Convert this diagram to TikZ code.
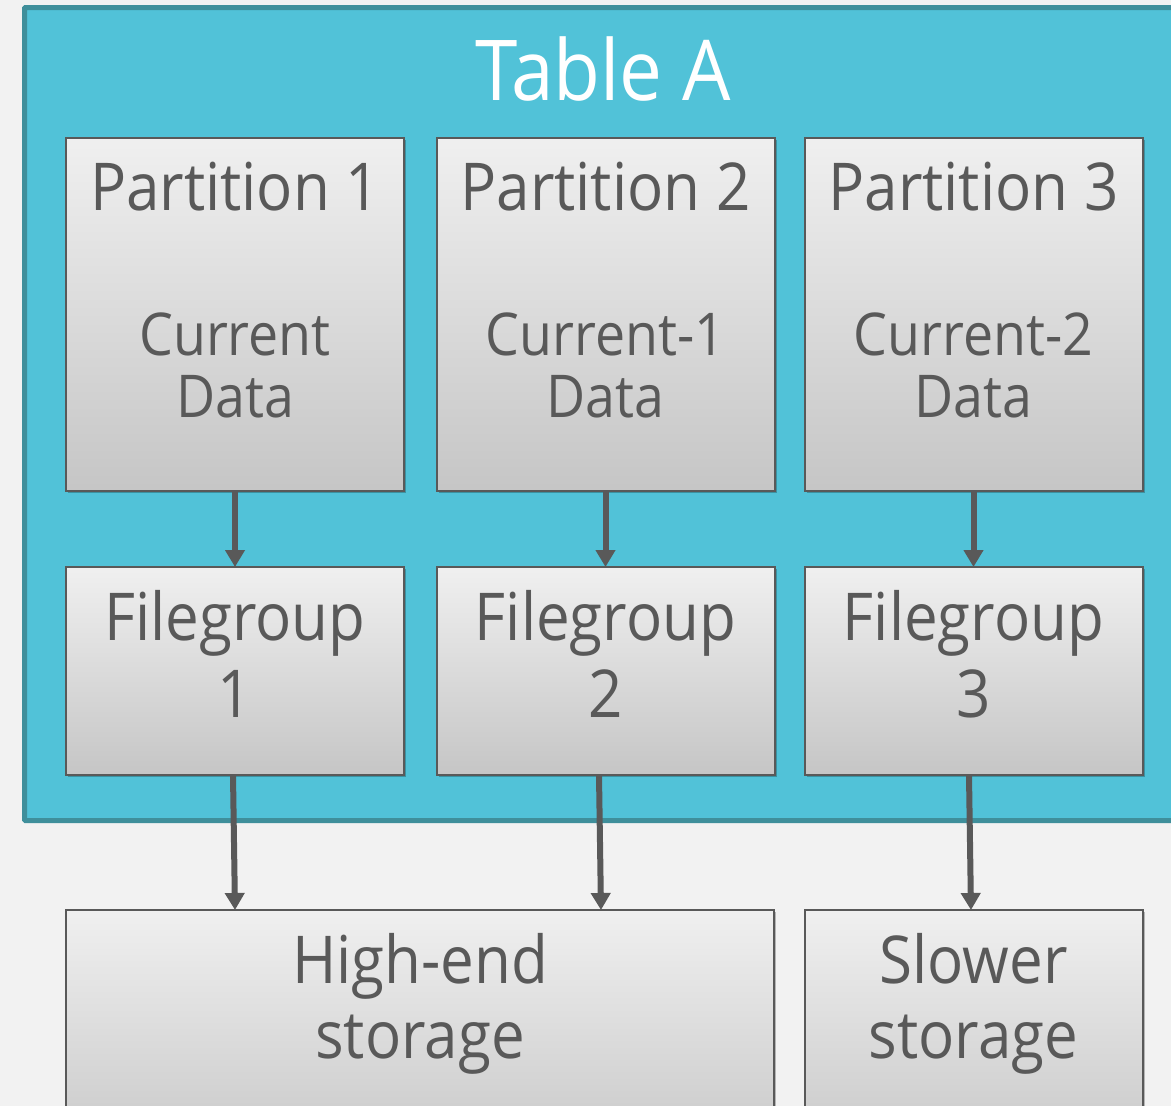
\documentclass[tikz,border=0pt]{standalone}
\usepackage{fontspec}
\setmainfont{Open Sans}[FakeStretch=0.91]
\usepackage{xcolor}
\usepackage{tikz}
\usetikzlibrary{arrows.meta,shadows}
\definecolor{ink}{HTML}{595959}
\definecolor{teal}{HTML}{51C2D8}
\definecolor{tealdark}{HTML}{3F8F9B}
\definecolor{paper}{HTML}{F2F2F2}
\tikzstyle{box}=[draw=ink,line width=2pt,top color=gray!12!white,bottom color=gray!45!white,
  drop shadow={shadow xshift=2pt,shadow yshift=-2pt,opacity=.25,fill=black},
  minimum width=338pt,inner sep=0pt,outer sep=0pt]
\tikzstyle{txt}=[text=ink,font=\fontsize{66}{77}\selectfont,align=center,inner sep=0pt,anchor=base]
\tikzstyle{small}=[text=ink,font=\fontsize{59}{62}\selectfont,align=center,inner sep=0pt,anchor=base]
\tikzstyle{arr}=[draw=ink,line width=6pt,-{Triangle[length=17pt,width=19pt]}]

\begin{document}
\begin{tikzpicture}[x=1pt,y=-1pt]
        \useasboundingbox (0,0) rectangle (1171,1106);
        \fill[paper] (0,0) rectangle (1171,1106);
        \draw[tealdark,fill=teal,line width=5pt,rounded corners=1pt] (24.5,7.5) rectangle (1190,820.5);
        \node at (603,100) [txt,text=white,font=\fontsize{84}{90}\selectfont] (title) {Table A};

        % partitions
        \node at (235,314.5) [box,minimum height=353pt] (p1) {};
        \node at (605.5,314.5) [box,minimum height=353pt] (p2) {};
        \node at (973.5,314.5) [box,minimum height=353pt] (p3) {};
        \node at (235,210) [txt] (p1t) {Partition 1};
        \node at (605.5,210) [txt] (p2t) {Partition 2};
        \node at (973.5,210) [txt] (p3t) {Partition 3};
        \node at (235,417) [small] (p1d) {Current\\Data};
        \node at (605.5,417) [small] (p2d) {Current-1\\Data};
        \node at (973.5,417) [small] (p3d) {Current-2\\Data};

        % filegroups
        \node at (235,671) [box,minimum height=208pt] (f1) {};
        \node at (605.5,671) [box,minimum height=208pt] (f2) {};
        \node at (973.5,671) [box,minimum height=208pt] (f3) {};
        \node at (235,717) [txt] (f1t) {Filegroup\\1};
        \node at (605.5,717) [txt] (f2t) {Filegroup\\2};
        \node at (973.5,717) [txt] (f3t) {Filegroup\\3};

        % storage
        \node at (420,1040) [box,minimum width=708pt,minimum height=260pt] (hi) {};
        \node at (973.5,1040) [box,minimum height=260pt] (sl) {};
        \node at (420,1058) [txt,font=\fontsize{66}{75}\selectfont] (hit) {High-end\\storage};
        \node at (973.5,1058) [txt,font=\fontsize{66}{75}\selectfont] (slt) {Slower\\storage};

        \draw [arr] (p1) to (f1);
        \draw [arr] (p2) to (f2);
        \draw [arr] (p3) to (f3);
        \draw [arr] ([xshift=-2pt]f1.south) to (f1.south |- hi.north);
        \draw [arr] ([xshift=-6.5pt]f2.south) to ([xshift=-4.5pt]f2.south |- hi.north);
        \draw [arr] ([xshift=-4.5pt]f3.south) to ([xshift=-2.5pt]f3.south |- sl.north);
      \end{tikzpicture}
\end{document}
